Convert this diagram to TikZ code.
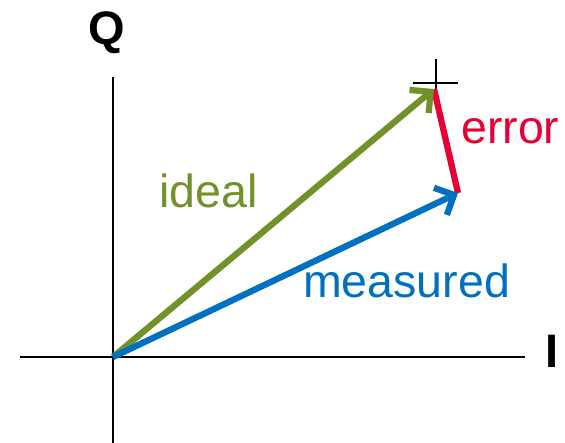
\documentclass[tikz,border=0pt]{standalone}
\usepackage{fontspec}
\setmainfont{Liberation Sans}
\usetikzlibrary{arrows.meta}
\definecolor{idealgreen}{RGB}{112,146,40}
\definecolor{measblue}{RGB}{0,112,192}
\definecolor{errred}{RGB}{232,0,52}
\tikzset{
  axis/.style={line width=2.6pt, black},
  vec/.style={line width=6.3pt, -{Straight Barb[length=15pt,width=30pt,line width=6.3pt]}},
  lbl/.style={font=\fontsize{46.5}{50}\selectfont, inner sep=0pt, anchor=base west},
  axlbl/.style={font=\fontsize{47}{50}\selectfont\bfseries, inner sep=0pt, anchor=base west},
}
\begin{document}
\begin{tikzpicture}[x=1pt,y=-1pt]
\useasboundingbox (0,0) rectangle (565,443);
% coordinates
\coordinate (O) at (113,357);
\coordinate (ytop) at (113,77);
\coordinate (ybot) at (113,443);
\coordinate (xl) at (20,357);
\coordinate (xr) at (525,357);
\coordinate (ideal) at (434,89);
\coordinate (meas) at (458,193);
\coordinate (chl) at (413,83);
\coordinate (chr) at (458,83);
\coordinate (cht) at (436,59);
\coordinate (chb) at (436,90);
% axes
\draw[axis] (ybot) -- (ytop);
\draw[axis] (xl) -- (xr);
% crosshair
\draw[line width=1.6pt] (chl) -- (chr);
\draw[line width=1.6pt] (cht) -- (chb);
% vectors
\draw[errred, line width=6.3pt] (ideal) -- (meas);
\draw[vec, idealgreen] (O) -- (ideal);
\draw[vec, measblue] (O) -- (meas);
% labels
\node[lbl, text=idealgreen] (tideal) at (159,208) {ideal};
\node[lbl, text=measblue] (tmeas) at (303,298) {measured};
\node[lbl, text=errred] (terr) at (461,144) {error};
\node[axlbl] (tq) at (88,45) {Q};
\node[axlbl] (ti) at (545,368) {I};
\end{tikzpicture}
\end{document}
